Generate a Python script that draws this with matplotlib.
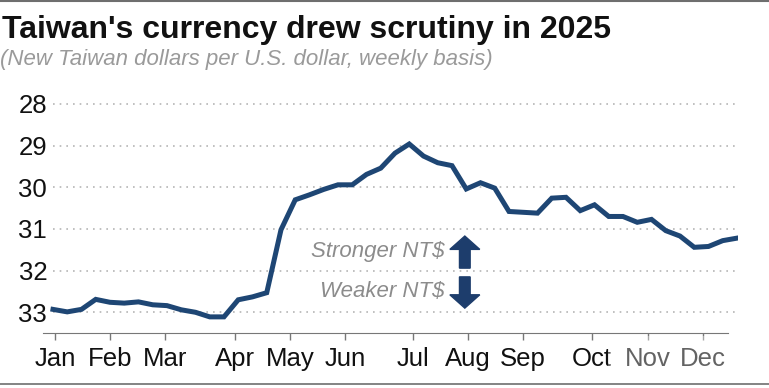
import matplotlib.pyplot as plt
from matplotlib.patches import FancyArrow, Rectangle
import numpy as np

plt.rcParams['font.family'] = ['Liberation Sans', 'DejaVu Sans']

# Data: NT$ per US$, weekly, 2025
rate = [32.93, 32.99, 32.93, 32.69, 32.76, 32.78, 32.75, 32.82, 32.84, 32.94,
        33.00, 33.11, 33.11, 32.70, 32.63, 32.53, 31.02, 30.30, 30.18, 30.05,
        29.94, 29.94, 29.69, 29.54, 29.18, 28.96, 29.25, 29.41, 29.48, 30.04,
        29.89, 30.02, 30.58, 30.60, 30.62, 30.26, 30.24, 30.56, 30.42, 30.70,
        30.70, 30.84, 30.77, 31.04, 31.17, 31.44, 31.42, 31.28, 31.22]
weeks = np.arange(len(rate))

months = ['Jan', 'Feb', 'Mar', 'Apr', 'May', 'Jun',
          'Jul', 'Aug', 'Sep', 'Oct', 'Nov', 'Dec']
month_pos = [0.14, 4.0, 7.86, 12.77, 16.63, 20.49,
             25.26, 29.12, 32.98, 37.82, 41.75, 45.61]
yticks = [28, 29, 30, 31, 32, 33]

navy = '#1e4674'
grey = '#8c8c8c'

fig = plt.figure(figsize=(7.69, 3.88), dpi=100)
ax = fig.add_axes([43 / 769, 1 - 332.7 / 388, 695 / 769, 241.2 / 388])

for y in yticks:
    ax.hlines(y, 0, 48.07, colors='#b5b5b5', linestyles=(0, (1, 3)), linewidth=1.2, zorder=1)

ax.plot(weeks, rate, color=navy, linewidth=3.6, solid_joinstyle='miter', zorder=3)

ax.set_xlim(-0.7, 48.07)
ax.set_ylim(33.49, 27.7)

ax.set_yticks(yticks)
ax.set_yticklabels([str(y) for y in yticks])
ax.set_xticks(month_pos)
ax.set_xticklabels(months)
ax.tick_params(axis='y', length=0, pad=-3, labelsize=18.5, labelcolor='#111111')
ax.tick_params(axis='x', length=5, width=1, color='#777777', pad=5,
               labelsize=18.5, labelcolor='#111111')

for s in ['top', 'right', 'left']:
    ax.spines[s].set_visible(False)
ax.spines['bottom'].set_color('#777777')
ax.spines['bottom'].set_bounds(-0.7, 47.4)

# direction hints
ax.text(27.5, 31.53, 'Stronger NT$', ha='right', va='center', style='italic',
        fontsize=16, color=grey)
ax.text(27.5, 32.49, 'Weaker NT$', ha='right', va='center', style='italic',
        fontsize=16, color=grey)
ax.add_patch(FancyArrow(28.9, 31.94, 0, -0.77, width=0.75, head_width=2.1,
                        head_length=0.32, length_includes_head=True,
                        color='#1d3d6c', zorder=4))
ax.add_patch(FancyArrow(28.9, 32.15, 0, 0.75, width=0.75, head_width=2.1,
                        head_length=0.32, length_includes_head=True,
                        color='#1d3d6c', zorder=4))

fig.text(2 / 769, 1 - 30 / 388, "Taiwan's currency drew scrutiny in 2025",
         fontsize=23, fontweight='bold', color='#111111', va='center', ha='left')
fig.text(0 / 769, 1 - 59 / 388, '(New Taiwan dollars per U.S. dollar, weekly basis)',
         fontsize=16, style='italic', color='#9a9a9a', va='center', ha='left')

# frame lines at top and bottom
fig.add_artist(plt.Line2D([0, 1], [1 - 1 / 388, 1 - 1 / 388], color='#6e6e6e', linewidth=1.5))
fig.add_artist(plt.Line2D([0, 1], [1 - 383.5 / 388, 1 - 383.5 / 388], color='#6e6e6e', linewidth=1.2))

# faint watermark box over the last labels
fig.add_artist(Rectangle((608 / 769, 1 - 372 / 388), 142 / 769, 36 / 388,
                         transform=fig.transFigure, facecolor='white', alpha=0.35,
                         edgecolor='none', zorder=10))

fig.savefig('out.png', dpi=100)
